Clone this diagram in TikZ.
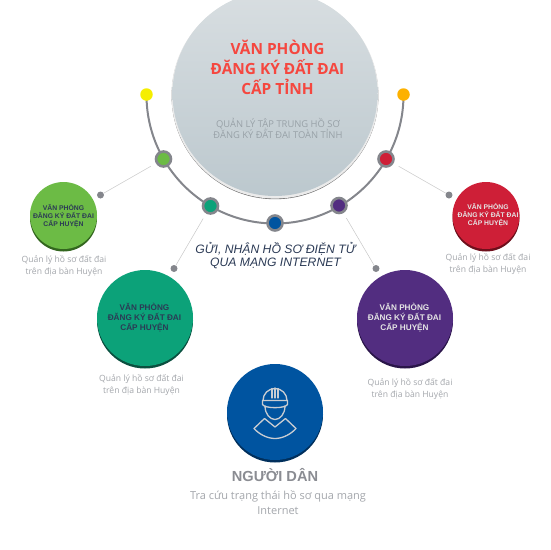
\documentclass[tikz,border=0pt]{standalone}
\usepackage{fontspec}
\setmainfont{Open Sans}
\newfontfamily\arialf{Liberation Sans}
\usetikzlibrary{calc}
\definecolor{cgreen}{HTML}{6CBB45}\definecolor{cgreend}{HTML}{33661F}
\definecolor{cteal}{HTML}{0CA279}\definecolor{cteald}{HTML}{0A4F3F}
\definecolor{cred}{HTML}{CE1F37}\definecolor{credd}{HTML}{6E0F1C}
\definecolor{cpurple}{HTML}{522D80}\definecolor{cpurpled}{HTML}{2A1549}
\definecolor{cblue}{HTML}{0054A0}\definecolor{cblued}{HTML}{002F5C}
\definecolor{ctitle}{HTML}{F5473F}\definecolor{cnavy}{HTML}{2B3A55}
\definecolor{cgrayt}{HTML}{A3A6AB}\definecolor{cring}{HTML}{84868C}
\definecolor{ccap}{HTML}{8A8C92}\definecolor{cmaintop}{HTML}{D8DEE1}
\definecolor{cmainbot}{HTML}{BCC8CE}\definecolor{cicon}{HTML}{C9CDD2}
\definecolor{csub}{HTML}{98A1A7}\definecolor{cyel}{HTML}{F5EE00}
\definecolor{corg}{HTML}{FDB100}
\tikzset{
  bigc/.style={circle,inner sep=0pt,minimum size=#1},
  dotn/.style={circle,inner sep=0pt,minimum size=15pt,fill=#1,draw=cring,line width=2.6pt},
  endn/.style={circle,inner sep=0pt,minimum size=12.5pt,fill=#1},
  tipn/.style={circle,inner sep=0pt,minimum size=7pt,fill=cring},
  lead/.style={draw=black!22,line width=0.5pt},
  smalltxt/.style={align=center,font=\arialf\bfseries\fontsize{6.8}{8.2}\selectfont,inner sep=0pt},
  midtxt/.style={align=center,font=\arialf\bfseries\fontsize{8.2}{10}\selectfont,inner sep=0pt},
  captxt/.style={align=center,text=cgrayt,font=\fontsize{8.6}{12}\selectfont,inner sep=0pt},
  ico/.style={draw=cicon,line width=1.3pt,line join=round,line cap=round}
}
% name, x, y, radius, main colour, dark colour
\newcommand{\disc}[6]{%
  \fill[#6] (#2,#3+2.5) circle[radius=#4pt];
  \node[bigc=#4*2pt,fill=#5] (#1) at (#2,#3) {};
}
\begin{document}
\begin{tikzpicture}[x=1pt,y=-1pt]
\useasboundingbox (0,0) rectangle (550,550);
\clip (0,0) rectangle (550,550);
% main circle
\fill[black!60] (275,95.8) circle[radius=103.4pt];
\fill[black!8] (275,95) circle[radius=103.6pt];
\node[bigc=205pt,top color=cmaintop,bottom color=cmainbot] (main) at (275,93.5) {};
\node[font=\bfseries\fontsize{15.4}{20}\selectfont,text=ctitle,align=center,inner sep=0pt] (title) at (277.5,67.5) {VĂN PHÒNG\\ĐĂNG KÝ ĐẤT ĐAI\\CẤP TỈNH};
\node[font=\fontsize{9.4}{11.5}\selectfont,text=csub,align=center,inner sep=0pt] (sub) at (278,128.5) {QUẢN LÝ TẬP TRUNG HỒ SƠ\\ĐĂNG KÝ ĐẤT ĐAI TOÀN TỈNH};
% end and ring nodes
\coordinate (arcstart) at (146.5,95);
\draw[draw=cring,line width=2pt] (arcstart) arc[start angle=180,end angle=360,radius=128.5pt] coordinate (arcend);
\node[endn=cyel] (yellow) at (146.5,94.5) {};
\node[endn=corg] (orange) at (403.5,94.5) {};
\node[dotn=cgreen] (dgreen) at (163.5,159) {};
\node[dotn=cteal] (dteal) at (210.5,206) {};
\node[dotn=cblue] (dblue) at (275,223) {};
\node[dotn=cpurple] (dpurple) at (339,205.5) {};
\node[dotn=cred] (dred) at (386,159) {};
% leaders
\node[tipn] (tgreen) at (100.5,195) {};
\node[tipn] (tteal) at (174,268.5) {};
\node[tipn] (tred) at (449,195) {};
\node[tipn] (tpurple) at (376,268.5) {};
\draw[lead] (tgreen) -- ($(dgreen)!0.2!(tgreen)$);
\draw[lead] (tteal) -- ($(dteal)!0.2!(tteal)$);
\draw[lead] (tred) -- ($(dred)!0.2!(tred)$);
\draw[lead] (tpurple) -- ($(dpurple)!0.2!(tpurple)$);
% discs
\disc{bgreen}{63.5}{215.5}{33.5}{cgreen}{cgreend}
\disc{bteal}{145}{318}{48}{cteal}{cteald}
\disc{bred}{486}{215.5}{33.5}{cred}{credd}
\disc{bpurple}{405}{318}{48}{cpurple}{cpurpled}
\disc{bblue}{275}{412}{48}{cblue}{cblued}
% disc labels
\node[smalltxt,text=cnavy] (lgreen) at (63.5,216) {VĂN PHÒNG\\ĐĂNG KÝ ĐẤT ĐAI\\CẤP HUYỆN};
\node[smalltxt,text=white!90!black] (lred) at (488,215) {VĂN PHÒNG\\ĐĂNG KÝ ĐẤT ĐAI\\CẤP HUYỆN};
\node[midtxt,text=cnavy] (lteal) at (144.5,318) {VĂN PHÒNG\hspace{7pt}\\ĐĂNG KÝ ĐẤT ĐAI\\CẤP HUYỆN};
\node[midtxt,text=white!90!black] (lpurple) at (404.5,318) {VĂN PHÒNG\hspace{6pt}\\ĐĂNG KÝ ĐẤT ĐAI\\CẤP HUYỆN};
% captions
\node[captxt] (cgreen1) at (64,266.5) {Quản lý hồ sơ đất đai\\trên địa bàn Huyện};
\node[captxt] (cteal1) at (141.5,385.5) {Quản lý hồ sơ đất đai\\trên địa bàn Huyện};
\node[captxt] (cred1) at (488,264) {Quản lý hồ sơ đất đai\\trên địa bàn Huyện};
\node[captxt] (cpurple1) at (410,389.5) {Quản lý hồ sơ đất đai\\trên địa bàn Huyện};
\node[font=\arialf\itshape\fontsize{12.2}{13.4}\selectfont,text=cnavy,align=center,inner sep=0pt] (net) at (275.5,255.5) {GỬI, NHẬN HỒ SƠ ĐIỆN TỬ\\QUA MẠNG INTERNET};
% icon
\draw[ico] (262.5,404.5) to[out=-60,in=-120,looseness=0.5] (287.5,404.5) -- (287.5,400.5) -- (262.5,400.5) -- cycle;
\draw[ico] (263,400.5) arc[start angle=180,end angle=0,radius=12pt];
\draw[ico] (272,388.5) -- (272,398) (275,388) -- (275,398) (278,388.5) -- (278,398);
\draw[ico] (265,406) .. controls (265,414) and (270,419.5) .. (275,419.5) .. controls (280,419.5) and (285,414) .. (285,406);
\draw[ico] (254,428.5) -- (264.5,418.5) -- (275,427) -- (285.5,418.5) -- (296,428.5) .. controls (291,434) and (283,438.5) .. (275,438.5) .. controls (267,438.5) and (259,434) .. (254,428.5) -- cycle;
% citizen
\node[font=\arialf\bfseries\fontsize{14.6}{16}\selectfont,text=ccap,inner sep=0pt] (nd) at (275,475) {NGƯỜI DÂN};
\node[font=\fontsize{11}{15.5}\selectfont,text=cgrayt,align=center,inner sep=0pt] (ndc) at (278,502.5) {Tra cứu trạng thái hồ sơ qua mạng\\Internet};
\end{tikzpicture}
\end{document}
